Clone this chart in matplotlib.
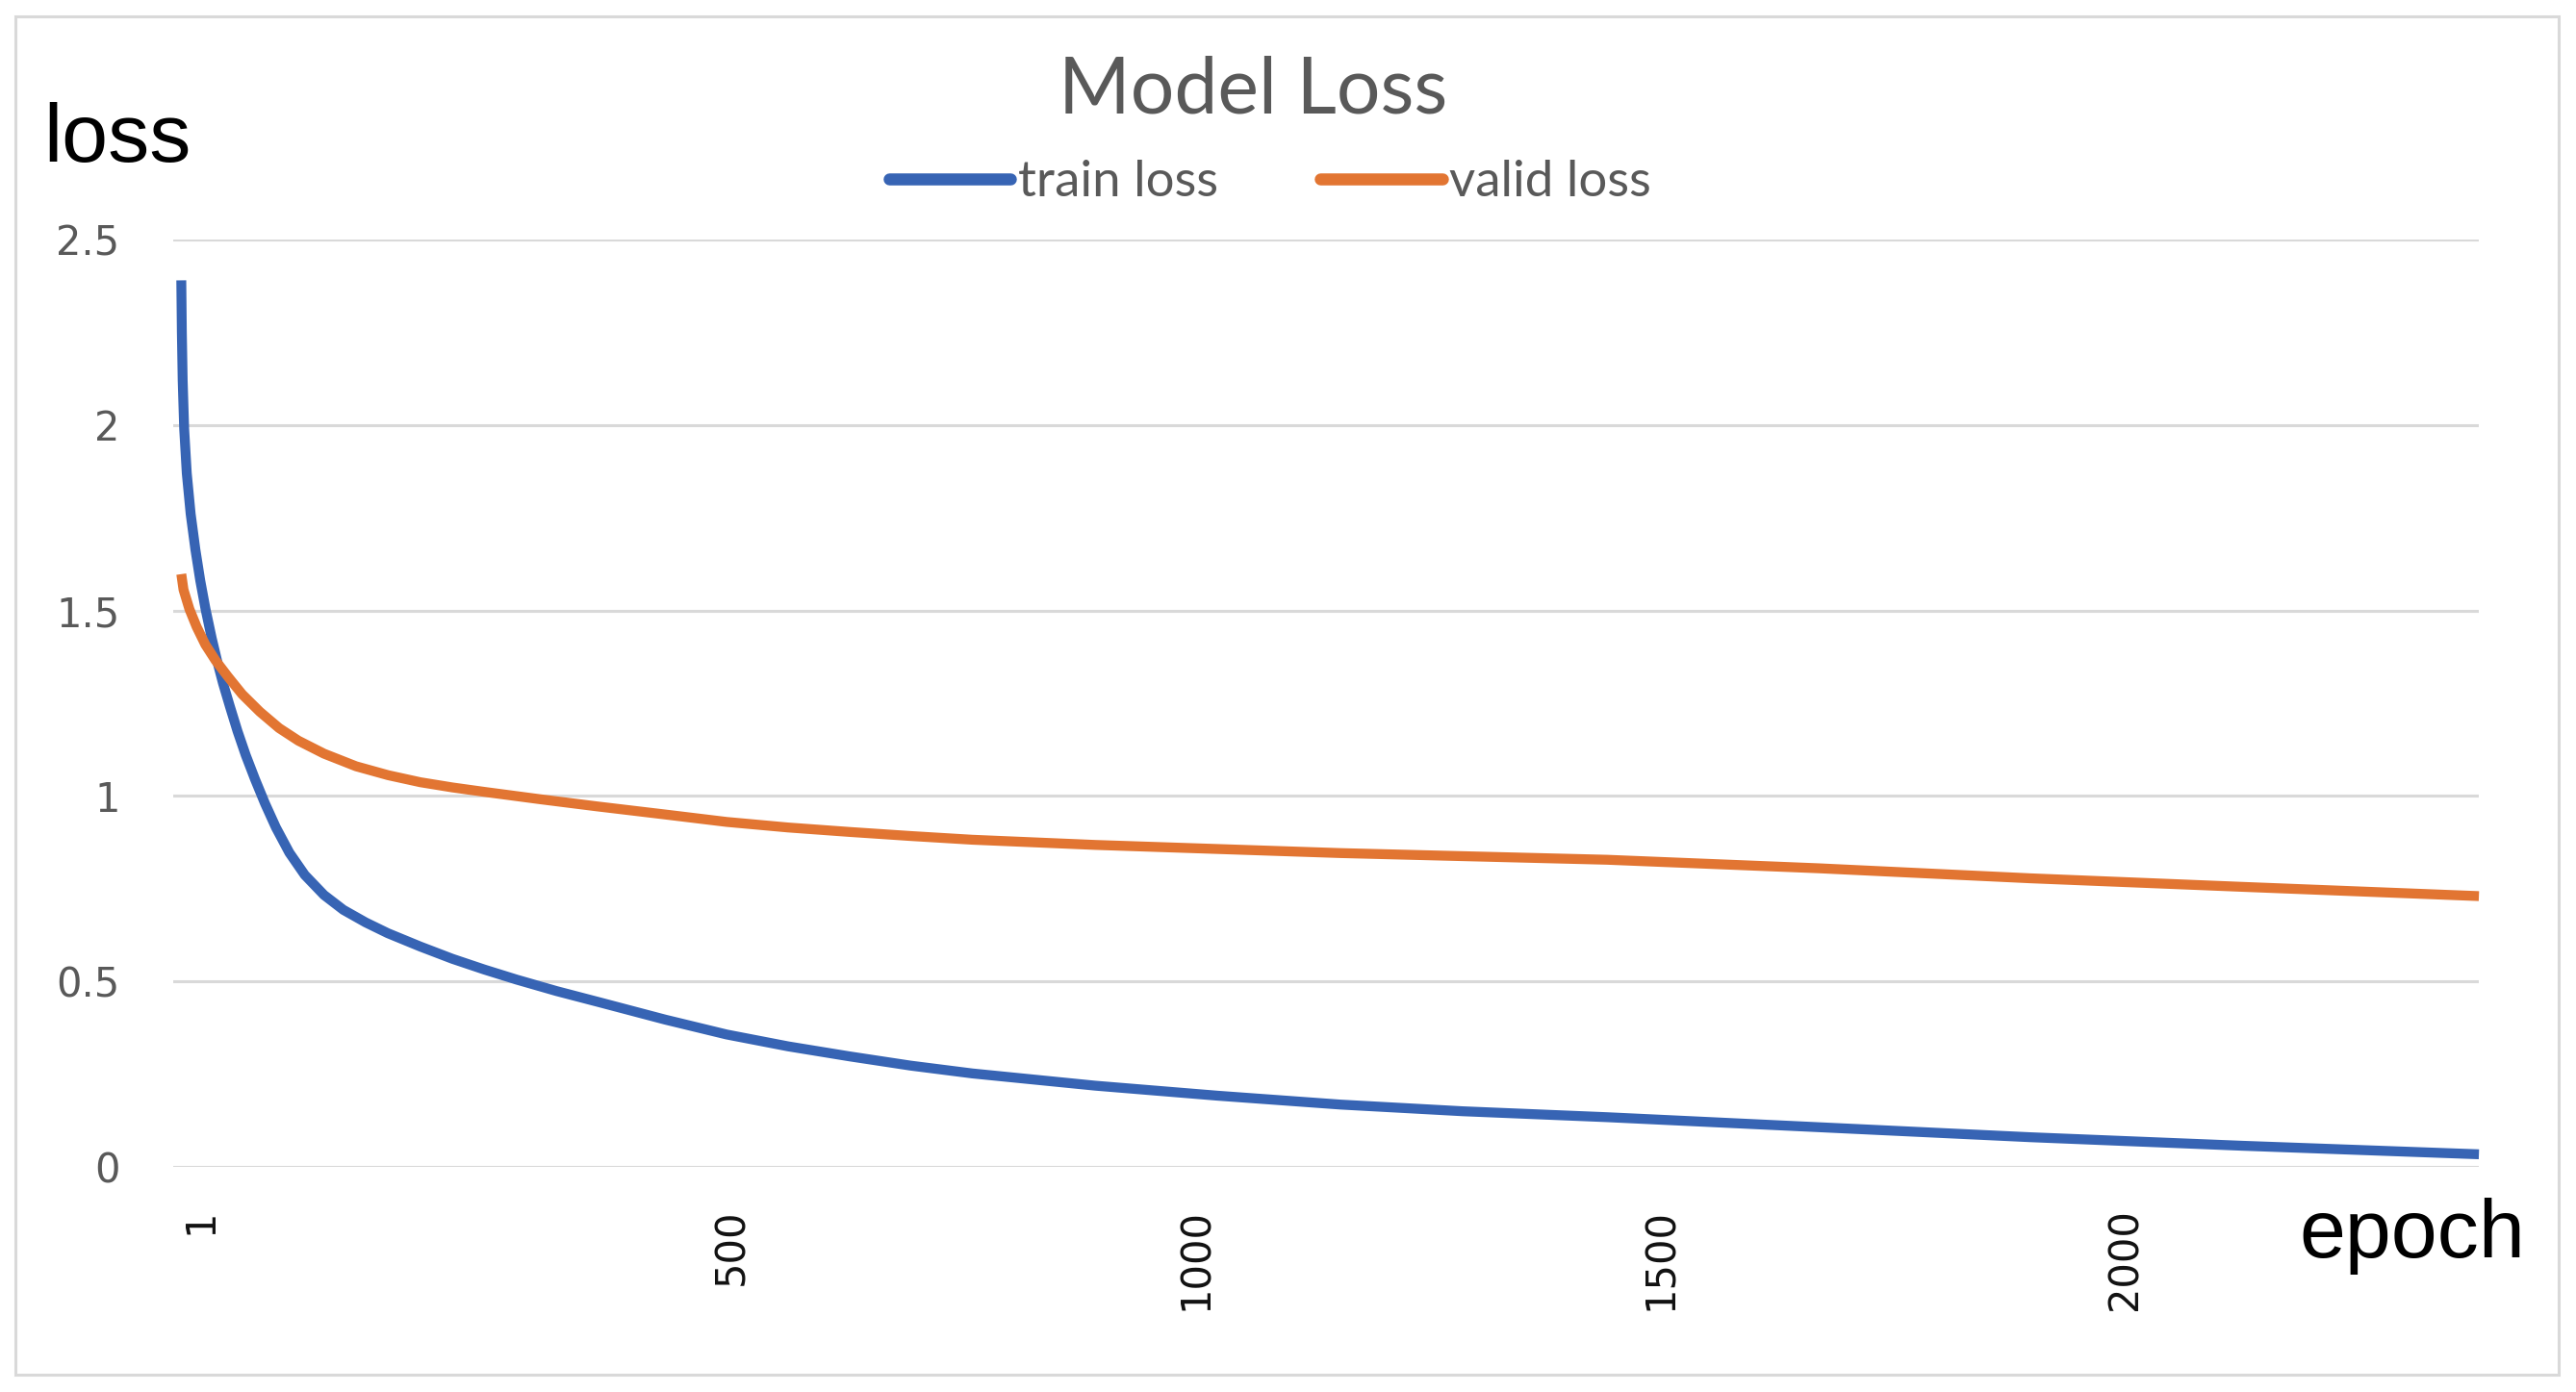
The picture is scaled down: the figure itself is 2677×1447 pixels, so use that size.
import matplotlib
matplotlib.use("Agg")
import matplotlib.pyplot as plt
from matplotlib.lines import Line2D
from matplotlib.patches import Rectangle

# ---- data (x in the chart's epoch coordinate) ----
train_epoch = [-92.9, -92.3, -91.4, -89.8, -87.0, -82.8, -77.7, -72.5, -66.8, -60.1,
               -54.2, -48.0, -40.4, -32.4, -23.5, -13.5, -2.8, 9.0, 23.5, 40.1,
               60.8, 81.6, 105.7, 129.5, 164.5, 199.0, 233.5, 268.1, 311.2, 358.6,
               428.3, 494.3, 560.5, 626.6, 692.6, 758.8, 891.2, 1022.8, 1155.4, 1287.0,
               1442.5, 1670.5, 1898.4, 2126.4, 2381.4]
train_loss = [2.39, 2.25, 2.12, 1.99, 1.87, 1.76, 1.664, 1.581, 1.504, 1.425,
              1.363, 1.304, 1.24, 1.175, 1.11, 1.045, 0.98, 0.915, 0.847, 0.787,
              0.733, 0.693, 0.659, 0.630, 0.594, 0.561, 0.532, 0.505, 0.474, 0.443,
              0.397, 0.357, 0.325, 0.298, 0.273, 0.252, 0.219, 0.192, 0.168, 0.150,
              0.134, 0.107, 0.080, 0.057, 0.034]

valid_epoch = [-92.9, -90.5, -84.2, -76.4, -67.0, -55.9, -42.8, -27.3, -8.3, 12.4,
               33.2, 60.8, 95.3, 129.8, 164.5, 199.0, 233.5, 294.0, 354.4, 428.3,
               494.3, 560.5, 626.6, 692.6, 758.8, 891.0, 1023.1, 1155.3, 1266.3, 1442.5,
               1670.5, 1898.4, 2126.4, 2381.4]
valid_loss = [1.598, 1.556, 1.504, 1.456, 1.408, 1.365, 1.322, 1.274, 1.227, 1.183,
              1.149, 1.114, 1.080, 1.056, 1.037, 1.023, 1.011, 0.991, 0.972, 0.950,
              0.930, 0.915, 0.903, 0.892, 0.882, 0.868, 0.857, 0.846, 0.839, 0.828,
              0.805, 0.778, 0.755, 0.730]

x_tick_pos = [-72.5, 500, 1000, 1500, 2000]
x_tick_labels = ["1", "500", "1000", "1500", "2000"]
y_ticks = [0, 0.5, 1, 1.5, 2, 2.5]
y_tick_labels = ["0", "0.5", "1", "1.5", "2", "2.5"]
series_names = ["train loss", "valid loss"]

BLUE = "#3764B4"
ORANGE = "#E27532"
GRID = "#D9D9D9"
GRAY_TXT = "#595959"

W, H = 2677, 1447
fig = plt.figure(figsize=(W / 100, H / 100), dpi=100)
fig.patch.set_facecolor("white")

# outer chart border
fig.patches.append(Rectangle((16 / W, 1 - 1429 / H), (2659 - 16) / W, (1429 - 17) / H,
                             transform=fig.transFigure, fill=False,
                             edgecolor=GRID, linewidth=2.2, zorder=0))

ax = fig.add_axes([180 / W, 1 - 1213 / H, (2576 - 180) / W, (1213 - 249) / H])
ax.set_xlim(-101.6, 2381.3)
ax.set_ylim(0, 2.5)
ax.set_facecolor("white")
for s in ax.spines.values():
    s.set_visible(False)

ax.set_yticks(y_ticks, y_tick_labels)
ax.set_xticks(x_tick_pos, x_tick_labels)
ax.tick_params(axis="y", length=0, pad=40, labelsize=30, labelcolor=GRAY_TXT)
ax.tick_params(axis="x", length=0, pad=31, labelsize=30, labelcolor="#111111",
               labelrotation=90)
ax.yaxis.grid(True, color=GRID, linewidth=2.2)
ax.set_axisbelow(True)

ax.plot(train_epoch, train_loss, color=BLUE, linewidth=7.4, solid_capstyle="butt",
        solid_joinstyle="round", clip_on=False)
ax.plot(valid_epoch, valid_loss, color=ORANGE, linewidth=7.4, solid_capstyle="butt",
        solid_joinstyle="round", clip_on=False)

# title
fig.text(1302 / W, 1 - 117 / H, "Model Loss", ha="center", va="baseline",
         fontsize=58, color=GRAY_TXT, family="Lato")

# legend
handles = [Line2D([], [], color=BLUE, linewidth=9, solid_capstyle="round"),
           Line2D([], [], color=ORANGE, linewidth=9, solid_capstyle="round")]
leg = fig.legend(handles, series_names, loc="center",
                 bbox_to_anchor=(1320 / W, 1 - 190 / H), ncol=2, frameon=False,
                 prop={"family": "Lato", "size": 38}, handlelength=2.4,
                 handletextpad=0.15, columnspacing=2.0, borderpad=0, borderaxespad=0)
for t in leg.get_texts():
    t.set_color(GRAY_TXT)

# axis captions
fig.text(45 / W, 1 - 168 / H, "loss", ha="left", va="baseline", fontsize=62,
         color="black", family="Liberation Sans")
fig.text(2389 / W, 1 - 1307 / H, "epoch", ha="left", va="baseline", fontsize=62,
         color="black", family="Liberation Sans")

fig.savefig("out.png", dpi=100, facecolor="white")
